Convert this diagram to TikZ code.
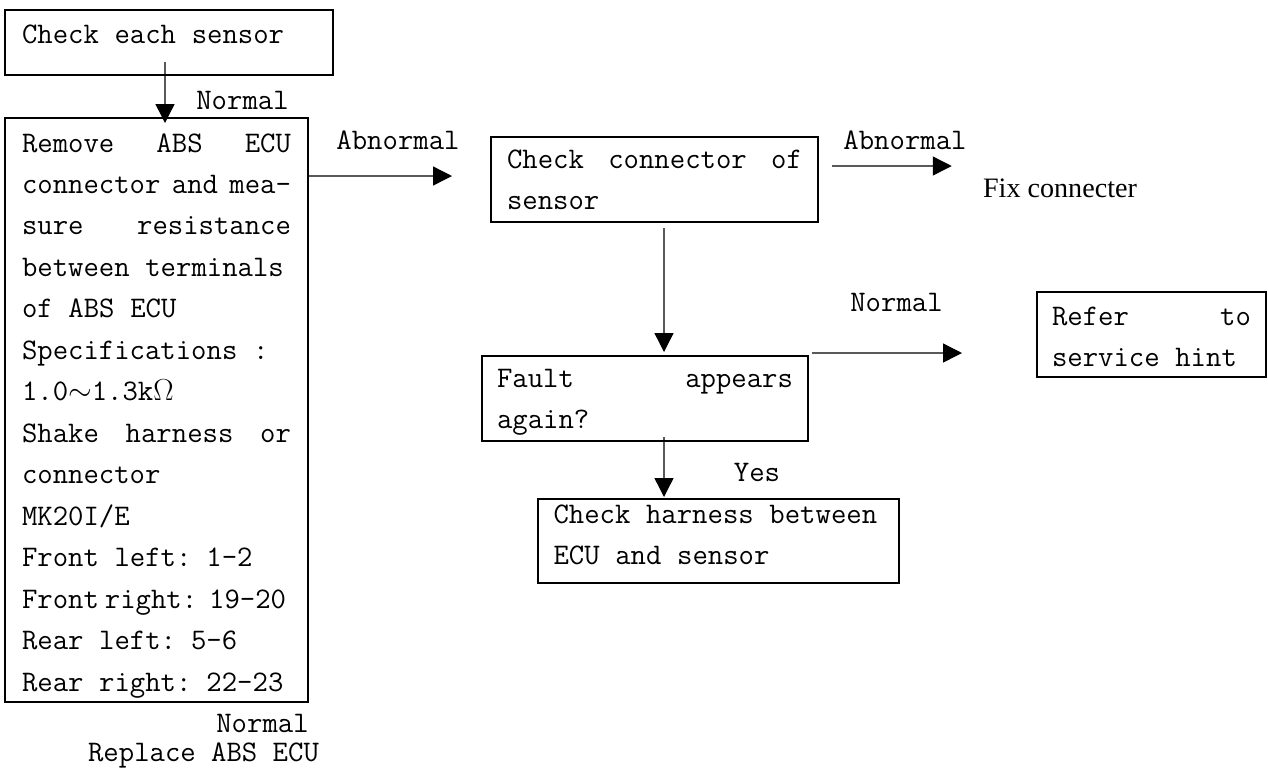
\documentclass[tikz,border=0pt]{standalone}
\usepackage{fontspec}
\newfontfamily\timesfont{Liberation Serif}
\usetikzlibrary{arrows.meta}

\tikzset{
    BOX/.style={draw=black, line width=1.1pt, shape=rectangle, anchor=north west,
        inner ysep=0mm, outer sep=0mm, align=left,
        font={\fontsize{17}{23.6}\selectfont\ttfamily},
        execute at begin node={\spaceskip=0.525em\relax}},
    LABEL/.style={inner sep=0mm,
        font={\fontsize{17}{23.6}\selectfont\ttfamily}},
    NOTE/.style={inner sep=0mm, font={\fontsize{16}{19}\selectfont\timesfont}},
    EDGE/.style={draw=black, line width=0.8pt,
        -{Triangle[length=3.8mm, width=3.8mm]}}
}
\pgfdeclarelayer{edgelayer}
\pgfdeclarelayer{nodelayer}
\pgfsetlayers{edgelayer,nodelayer,main}

\begin{document}
\begin{tikzpicture}
    \useasboundingbox (0, 0) rectangle (25.36, -15.66);
    \begin{pgfonlayer}{nodelayer}
        \node [BOX, text width=5.88cm, inner xsep=3.4mm, text height=6.6mm, text depth=6.4mm] (1) at (0.10, -0.20) {Check each sensor};
        \node [BOX, text width=5.38cm, inner xsep=3.4mm, text height=6.8mm, text depth=110mm] (2) at (0.10, -2.36) {Remove\hfill ABS\hfill ECU\\
            connector\hfill and\hfill mea-\\
            sure\hfill resistance\\
            between terminals\\
            of ABS ECU\\
            Specifications :\\
            1.0$\sim$1.3k$\Omega$\\
            Shake\hfill harness\hfill or\\
            connector\\
            MK20I/E\\
            Front left: 1-2\\
            Front\hspace{.2em}right:\hspace{.4em}19-20\\
            Rear left: 5-6\\
            Rear right: 22-23};
        \node [BOX, text width=5.90cm, inner xsep=3.2mm, text height=6.2mm, text depth=10.8mm] (3) at (9.82, -2.74) {Check\hfill connector\hfill of\\sensor};
        \node [BOX, text width=5.92cm, inner xsep=3.0mm, text height=6.2mm, text depth=10.8mm] (4) at (9.64, -7.12) {Fault\hfill appears\\again?};
        \node [BOX, text width=6.60cm, inner xsep=3.1mm, text height=4.8mm, text depth=12.0mm] (5) at (10.76, -9.98) {Check harness between\\ECU and sensor};
        \node [BOX, text width=3.98cm, inner xsep=3.0mm, text height=6.6mm, text depth=10.4mm] (6) at (20.74, -5.84) {Refer\hfill to\\service hint};
        \node [NOTE] (7) at (21.20, -3.76) {Fix connecter};
        \node [LABEL] (8) at (4.85, -2.00) {Normal};
        \node [LABEL] (9) at (7.96, -2.80) {Abnormal};
        \node [LABEL] (10) at (18.10, -2.80) {Abnormal};
        \node [LABEL] (11) at (17.93, -6.04) {Normal};
        \node [LABEL] (12) at (15.14, -9.44) {Yes};
        \node [LABEL] (13) at (5.25, -14.46) {Normal};
        \node [LABEL] (14) at (4.07, -15.10) {Replace ABS ECU};
    \end{pgfonlayer}
    \begin{pgfonlayer}{edgelayer}
        \draw[EDGE] ([xshift=-0.08cm, yshift=0.26cm]1.south) to ([xshift=0.17cm, yshift=-0.10cm]2.north);
        \draw[EDGE] ([yshift=-1.16cm]2.north east) to ([xshift=-0.78cm, yshift=0.07cm]3.west);
        \draw[EDGE] ([xshift=0.28cm, yshift=0.27cm]3.east) to ([xshift=-0.62cm, yshift=0.44cm]7.west);
        \draw[EDGE] ([xshift=0.19cm, yshift=-0.12cm]3.south) to ([xshift=0.38cm, yshift=0.08cm]4.north);
        \draw[EDGE] ([xshift=0.38cm, yshift=0.08cm]4.south) to ([xshift=-1.09cm, yshift=0.04cm]5.north);
        \draw[EDGE] ([xshift=0.08cm, yshift=0.06cm]4.north east) to ([xshift=-1.50cm, yshift=-0.37cm]6.west);
    \end{pgfonlayer}
\end{tikzpicture}
\end{document}
